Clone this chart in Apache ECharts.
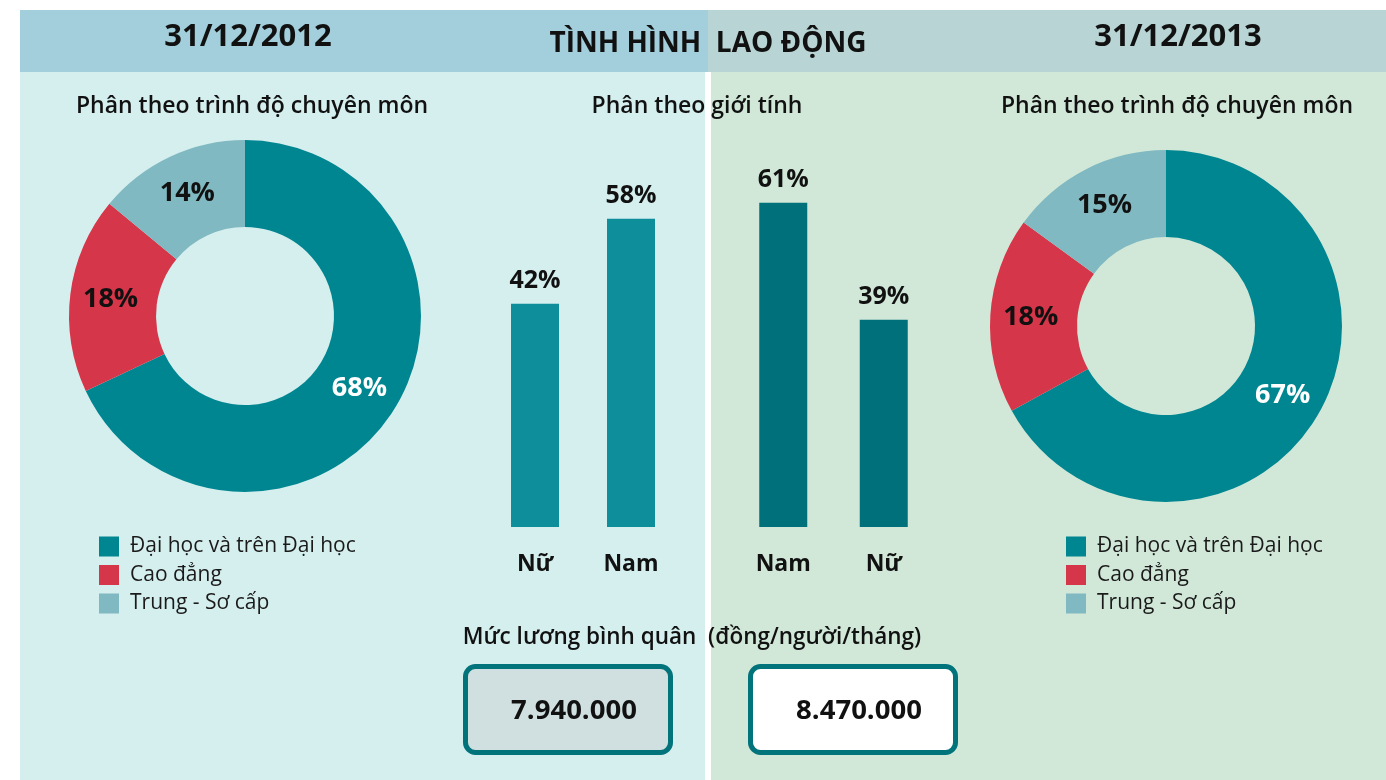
<!DOCTYPE html>
<html>
<head>
<meta charset="utf-8">
<script src="https://cdn.jsdelivr.net/npm/echarts@6/dist/echarts.min.js"></script>
<style>
  html, body { margin: 0; padding: 0; background: #fff; }
  #chart { width: 1386px; height: 780px; }
</style>
</head>
<body>
<div id="chart"></div>
<script>
// trình độ chuyên môn
const levelNames = ['Đại học và trên Đại học', 'Cao đẳng', 'Trung - Sơ cấp'];
const level2012 = [68, 18, 14];
const level2013 = [67, 18, 15];
// giới tính
const gender2012Cats = ['Nữ', 'Nam'];
const gender2012 = [42, 58];
const gender2013Cats = ['Nam', 'Nữ'];
const gender2013 = [61, 39];
// mức lương bình quân
const salary = ['7.940.000', '8.470.000'];

const FONT = '"Open Sans", "Noto Sans", sans-serif';
const pieColors = ['#008691', '#d63649', '#80b9c1'];
const labelColors = ['#ffffff', '#111111', '#111111'];

let chart = echarts.init(document.getElementById('chart'));

function pieData(vals) {
  return vals.map(function (v, i) {
    return {
      name: levelNames[i],
      value: v,
      itemStyle: { color: pieColors[i] },
      label: { color: labelColors[i] }
    };
  });
}

function pieSeries(center, vals) {
  return {
    type: 'pie',
    center: center,
    radius: [89, 176],
    startAngle: 90,
    clockwise: true,
    silent: true,
    label: {
      show: true,
      position: 'inside',
      formatter: '{c}%',
      fontFamily: FONT,
      fontWeight: 'bold',
      fontSize: 27
    },
    labelLine: { show: false },
    data: pieData(vals)
  };
}

function barSeries(idx, vals, color) {
  return {
    type: 'bar',
    xAxisIndex: idx,
    yAxisIndex: idx,
    barWidth: 48,
    silent: true,
    itemStyle: { color: color },
    label: {
      show: true,
      position: 'top',
      distance: 10,
      formatter: '{c}%',
      color: '#111',
      fontFamily: FONT,
      fontWeight: 'bold',
      fontSize: 25
    },
    data: vals
  };
}

function catAxis(idx, cats) {
  return {
    type: 'category',
    gridIndex: idx,
    data: cats,
    axisLine: { show: false },
    axisTick: { show: false },
    axisLabel: {
      margin: 26,
      color: '#111',
      fontFamily: FONT,
      fontWeight: 'bold',
      fontSize: 23
    }
  };
}

function valAxis(idx) {
  return { type: 'value', gridIndex: idx, min: 0, max: 70, show: false, splitLine: { show: false } };
}

function legendAt(left) {
  return {
    data: levelNames,
    orient: 'vertical',
    left: left,
    top: 536,
    padding: 0,
    icon: 'rect',
    itemWidth: 20,
    itemHeight: 20,
    itemGap: 7.5,
    selectedMode: false,
    textStyle: { fontFamily: FONT, fontSize: 21, color: '#1a1a1a', padding: [0, 0, 0, 6] }
  };
}

function txt(x, y, text, size, weight, color) {
  return {
    type: 'text',
    x: x, y: y, z: 5,
    style: {
      text: text,
      fill: color || '#111',
      font: weight + ' ' + size + 'px ' + FONT,
      textAlign: 'center',
      textVerticalAlign: 'middle'
    }
  };
}

let option = {
  backgroundColor: '#ffffff',
  animation: false,
  graphic: [
    // nền
    { type: 'rect', z: -10, shape: { x: 20, y: 72, width: 685, height: 708 }, style: { fill: '#d5eeee' } },
    { type: 'rect', z: -10, shape: { x: 711, y: 72, width: 675, height: 708 }, style: { fill: '#d1e8d8' } },
    { type: 'rect', z: -10, shape: { x: 20, y: 10, width: 688, height: 62 }, style: { fill: '#a2cfdb' } },
    { type: 'rect', z: -10, shape: { x: 708, y: 10, width: 678, height: 62 }, style: { fill: '#b8d4d4' } },
    // tiêu đề
    txt(248, 37, '31/12/2012', 31, 'bold'),
    txt(708, 44, 'TÌNH HÌNH  LAO ĐỘNG', 28, 'bold'),
    txt(1178, 37, '31/12/2013', 31, 'bold'),
    txt(252, 106, 'Phân theo trình độ chuyên môn', 23, '600'),
    txt(697, 106, 'Phân theo giới tính', 23, '600'),
    txt(1177, 106, 'Phân theo trình độ chuyên môn', 23, '600'),
    txt(692, 638, 'Mức lương bình quân  (đồng/người/tháng)', 22.5, '600'),
    // ô lương
    { type: 'rect', z: 3, shape: { x: 465.5, y: 666.5, width: 205, height: 86, r: 10 },
      style: { fill: '#d0e0e0', stroke: '#00737b', lineWidth: 5 } },
    { type: 'rect', z: 3, shape: { x: 750.5, y: 666.5, width: 205, height: 86, r: 10 },
      style: { fill: '#ffffff', stroke: '#00737b', lineWidth: 5 } },
    txt(574, 711, salary[0], 27.5, 'bold'),
    txt(859, 711, salary[1], 27.5, 'bold')
  ],
  legend: [legendAt(99), legendAt(1066)],
  grid: [
    { left: 487, top: 155, width: 192, height: 372 },
    { left: 733, top: 155, width: 201, height: 372 }
  ],
  xAxis: [catAxis(0, gender2012Cats), catAxis(1, gender2013Cats)],
  yAxis: [valAxis(0), valAxis(1)],
  series: [
    pieSeries([245, 316], level2012),
    pieSeries([1166, 326], level2013),
    barSeries(0, gender2012, '#0e8e9a'),
    barSeries(1, gender2013, '#00717a')
  ]
};

chart.setOption(option);
</script>
</body>
</html>
